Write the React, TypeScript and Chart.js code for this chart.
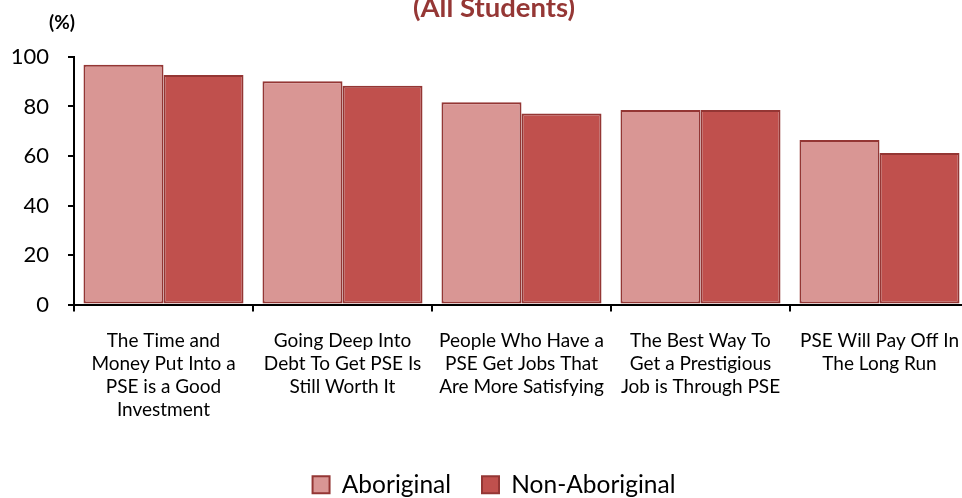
import { useEffect, useRef } from 'react';
import { Chart, registerables } from 'chart.js';

Chart.register(...registerables);

const FONT = "Lato, 'Open Sans', sans-serif";

const categories: string[][] = [
  ['The Time and', 'Money Put Into a', 'PSE is a Good', 'Investment'],
  ['Going Deep Into', 'Debt To Get PSE Is', 'Still Worth It'],
  ['People Who Have a', 'PSE Get Jobs That', 'Are More Satisfying'],
  ['The Best Way To', 'Get a Prestigious', 'Job is Through PSE'],
  ['PSE Will Pay Off In', 'The Long Run'],
];
const aboriginal = [96.9, 90.2, 81.7, 78.6, 66.5];
const nonAboriginal = [92.7, 88.4, 77.2, 78.6, 61.2];
const yTicks = [0, 20, 40, 60, 80, 100];
const seriesNames = ['Aboriginal', 'Non-Aboriginal'];
const titleText = '(All Students)';
const unitText = '(%)';

const CANVAS_W = 988;
const CANVAS_H = 513;
const CANVAS_TOP = -6;

const unitPlugin = {
  id: 'unitLabel',
  afterDraw(chart: any) {
    const { ctx, chartArea } = chart;
    ctx.save();
    ctx.font = `bold 19px ${FONT}`;
    ctx.fillStyle = '#000';
    ctx.textAlign = 'center';
    ctx.textBaseline = 'alphabetic';
    ctx.fillText(unitText, chartArea.left - 12, chartArea.top - 28);
    ctx.restore();
  },
};

export default function App() {
  const ref = useRef<HTMLCanvasElement | null>(null);

  useEffect(() => {
    if (!ref.current) return;
    const chart = new Chart(ref.current, {
      type: 'bar',
      data: {
        labels: categories,
        datasets: [
          {
            label: seriesNames[0],
            data: aboriginal,
            backgroundColor: '#D99694',
            borderColor: '#943634',
            borderWidth: 2,
            borderSkipped: false,
            categoryPercentage: 0.894,
            barPercentage: 1,
          },
          {
            label: seriesNames[1],
            data: nonAboriginal,
            backgroundColor: '#C0504D',
            borderColor: '#943634',
            borderWidth: 2,
            borderSkipped: false,
            categoryPercentage: 0.894,
            barPercentage: 1,
          },
        ],
      },
      options: {
        responsive: false,
        animation: false,
        devicePixelRatio: 1,
        layout: { padding: 0 },
        plugins: {
          title: {
            display: true,
            text: titleText,
            color: '#953735',
            font: { family: FONT, size: 27.5, weight: 'bold', lineHeight: 1 },
            padding: { top: 0, bottom: 35.5 },
          },
          legend: {
            position: 'bottom',
            labels: {
              boxWidth: 17,
              boxHeight: 17,
              padding: 31,
              color: '#000',
              font: { family: FONT, size: 24.5 },
            },
          },
          tooltip: { enabled: false },
        },
        scales: {
          x: {
            grid: {
              display: true,
              drawOnChartArea: false,
              drawTicks: true,
              tickLength: 7,
              color: '#000',
              lineWidth: 2,
              offset: true,
            },
            border: { display: true, color: '#000', width: 2 },
            ticks: {
              color: '#000',
              font: { family: FONT, size: 19, lineHeight: 23 / 19 },
              padding: 18,
              maxRotation: 0,
              minRotation: 0,
              autoSkip: false,
            },
            afterFit: (s: any) => {
              s.height = 137;
            },
          },
          y: {
            min: 0,
            max: 100,
            afterBuildTicks: (s: any) => {
              s.ticks = yTicks.map((v) => ({ value: v }));
            },
            grid: {
              display: true,
              drawOnChartArea: false,
              drawTicks: true,
              tickLength: 6,
              color: '#000',
              lineWidth: 2,
            },
            border: { display: true, color: '#000', width: 2 },
            ticks: {
              color: '#000',
              font: { family: FONT, size: 22 },
              padding: 19,
            },
            afterFit: (s: any) => {
              s.width = 74;
            },
          },
          yRight: {
            type: 'linear',
            position: 'right',
            display: true,
            grid: { display: false },
            border: { display: false },
            ticks: { display: false },
            afterFit: (s: any) => {
              s.width = 19;
            },
          },
        },
      } as any,
      plugins: [unitPlugin],
    });
    return () => chart.destroy();
  }, []);

  return (
    <div
      style={{
        position: 'fixed',
        left: 0,
        top: 0,
        width: 962,
        height: 498,
        overflow: 'hidden',
        background: '#fff',
      }}
    >
      <canvas
        ref={ref}
        width={CANVAS_W}
        height={CANVAS_H}
        style={{ position: 'absolute', left: 0, top: CANVAS_TOP, width: CANVAS_W, height: CANVAS_H }}
      />
    </div>
  );
}
